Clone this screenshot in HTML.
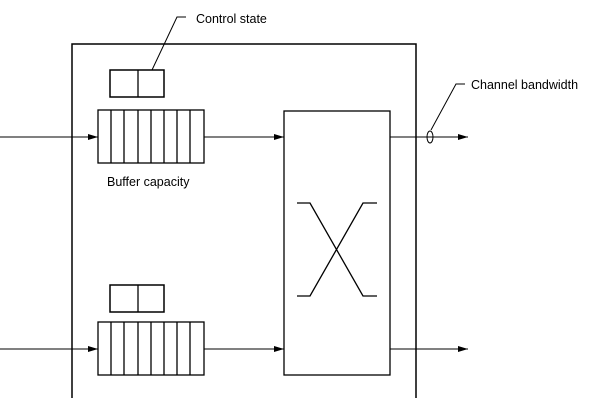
<!DOCTYPE html>
<html><head><style>body{margin:0;background:#fff}svg{display:block}text{font-family:"Liberation Sans",sans-serif;font-size:12.5px;fill:#000}</style></head><body>
<svg width="600" height="410" viewBox="0 0 600 410" xmlns="http://www.w3.org/2000/svg">
<defs><marker id="a" markerWidth="10" markerHeight="8" refX="10" refY="4" orient="auto" markerUnits="userSpaceOnUse"><path d="M0,1 L10,4 L0,7 z" fill="#000"/></marker></defs>
<g stroke="#000" fill="none" stroke-width="1.3">
<path d="M72,398 V44 H416 V398" stroke-width="1.5"/>
<rect x="110" y="70" width="54" height="27" stroke-width="1.5"/><line x1="138" y1="70" x2="138" y2="97"/>
<rect x="110" y="285" width="54" height="27" stroke-width="1.5"/><line x1="138" y1="285" x2="138" y2="312"/>
<rect x="98" y="110" width="106" height="53"/>
<path d="M111,110V163M124,110V163M138,110V163M151,110V163M164,110V163M177,110V163M190,110V163"/>
<rect x="98" y="322" width="106" height="53"/>
<path d="M111,322V375M124,322V375M138,322V375M151,322V375M164,322V375M177,322V375M190,322V375"/>
<rect x="284" y="111" width="106" height="264"/>
<path d="M297,203H310L363,296H377M297,296H310L363,203H377"/>
<line x1="0" y1="137" x2="98" y2="137" marker-end="url(#a)" stroke-width="1"/>
<line x1="204" y1="137" x2="284" y2="137" marker-end="url(#a)" stroke-width="1"/>
<line x1="390" y1="137" x2="468" y2="137" marker-end="url(#a)" stroke-width="1"/>
<line x1="0" y1="349" x2="98" y2="349" marker-end="url(#a)" stroke-width="1"/>
<line x1="204" y1="349" x2="284" y2="349" marker-end="url(#a)" stroke-width="1"/>
<line x1="390" y1="349" x2="468" y2="349" marker-end="url(#a)" stroke-width="1"/>
<ellipse cx="430" cy="137" rx="3" ry="6" stroke-width="1"/>
<path d="M431,130L456,84H465M152,70L177,17H186" stroke-width="1"/>
</g>
<text x="196" y="23">Control state</text>
<text x="471" y="89">Channel bandwidth</text>
<text x="107" y="186">Buffer capacity</text>
</svg>
</body></html>
